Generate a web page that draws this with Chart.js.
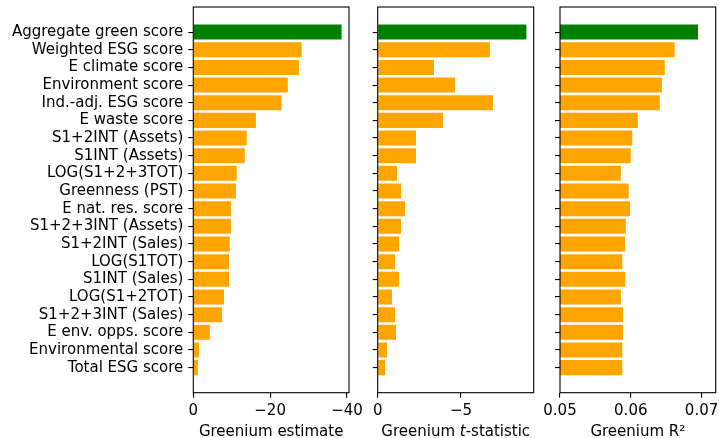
<!DOCTYPE html>
<html>
<head>
<meta charset="utf-8">
<script src="https://cdn.jsdelivr.net/npm/chart.js@4"></script>
<style>
  body { margin: 0; background: #fff; }
  #wrap { position: relative; width: 719px; height: 438px; }
  #wrap canvas { position: absolute; left: 0; top: 0; }
</style>
</head>
<body>
<div id="wrap">
  <canvas id="estimateChart" width="719" height="438"></canvas>
  <canvas id="tstatChart" width="719" height="438"></canvas>
  <canvas id="r2Chart" width="719" height="438"></canvas>
</div>
<script>
const categories = [
  "Aggregate green score", "Weighted ESG score", "E climate score", "Environment score",
  "Ind.-adj. ESG score", "E waste score", "S1+2INT (Assets)", "S1INT (Assets)",
  "LOG(S1+2+3TOT)", "Greenness (PST)", "E nat. res. score", "S1+2+3INT (Assets)",
  "S1+2INT (Sales)", "LOG(S1TOT)", "S1INT (Sales)", "LOG(S1+2TOT)",
  "S1+2+3INT (Sales)", "E env. opps. score", "Environmental score", "Total ESG score"
];
const greeniumEstimate = [-38.6, -28.2, -27.5, -24.6, -23.0, -16.3, -13.9, -13.4, -11.3, -11.1,
  -9.8, -9.8, -9.5, -9.3, -9.3, -8.0, -7.5, -4.3, -1.5, -1.2];
const greeniumTstat = [-8.93, -6.74, -3.38, -4.64, -6.92, -3.92, -2.3, -2.3, -1.16, -1.4,
  -1.64, -1.4, -1.28, -1.04, -1.28, -0.86, -1.04, -1.1, -0.56, -0.44];
const greeniumR2 = [0.0695, 0.0662, 0.0648, 0.0644, 0.0641, 0.0610, 0.0602, 0.0600, 0.0586, 0.0597,
  0.0599, 0.0593, 0.0592, 0.0588, 0.0592, 0.0586, 0.0589, 0.0589, 0.0588, 0.0588];
const estimateTicks = [0, -20, -40];
const tstatTicks = [0, -5];
const r2Ticks = [0.05, 0.06, 0.07];

const FONT = { family: "DejaVu Sans", size: 15 };
const minus = v => String(v).replace("-", "\u2212");

// box around the plot area, drawn over the bars like matplotlib spines
const frame = {
  id: "frame",
  afterDatasetsDraw(chart) {
    const { ctx, chartArea: a } = chart;
    ctx.save();
    ctx.strokeStyle = "#000";
    ctx.lineWidth = 1.1;
    ctx.strokeRect(a.left, a.top, a.right - a.left, a.bottom - a.top);
    ctx.restore();
  }
};

// x axis title, pieces may be italic (for the t in t-statistic)
const axisTitle = {
  id: "axisTitle",
  afterDraw(chart, args, opts) {
    const { ctx, chartArea: a } = chart;
    const parts = opts.parts;
    ctx.save();
    ctx.fillStyle = "#000";
    ctx.textBaseline = "alphabetic";
    let total = 0;
    parts.forEach(p => {
      ctx.font = (p.italic ? "italic " : "") + FONT.size + "px '" + FONT.family + "'";
      p.w = ctx.measureText(p.text).width;
      total += p.w;
    });
    let x = (a.left + a.right) / 2 - total / 2;
    parts.forEach(p => {
      ctx.font = (p.italic ? "italic " : "") + FONT.size + "px '" + FONT.family + "'";
      ctx.fillText(p.text, x, 436);
      x += p.w;
    });
    ctx.restore();
  }
};

function makePanel(id, values, cfg) {
  return new Chart(document.getElementById(id), {
    type: "bar",
    data: {
      datasets: [{
        data: values.map((v, i) => ({ x: v, y: i })),
        backgroundColor: values.map((v, i) => i === 0 ? "green" : "orange"),
        categoryPercentage: 1,
        barPercentage: 0.85
      }]
    },
    options: {
      indexAxis: "y",
      responsive: false,
      animation: false,
      devicePixelRatio: 1,
      layout: { padding: { left: cfg.padLeft, right: cfg.padRight, top: 7, bottom: 0 } },
      plugins: {
        legend: { display: false },
        tooltip: { enabled: false },
        axisTitle: { parts: cfg.title }
      },
      scales: {
        y: {
          type: "linear",
          offset: false,
          reverse: true,
          min: -1.42,
          max: 20.42,
          afterBuildTicks: s => { s.ticks = categories.map((c, i) => ({ value: i })); },
          afterFit: s => { s.width = cfg.yWidth; s.paddingTop = 0; s.paddingBottom = 0; },
          ticks: {
            autoSkip: false,
            padding: 5,
            color: "#000",
            font: FONT,
            callback: v => cfg.showLabels ? categories[v] : ""
          },
          grid: { offset: false, drawOnChartArea: false, tickLength: 5, color: "#000", lineWidth: 1.1 },
          border: { display: false }
        },
        x: {
          type: "linear",
          reverse: cfg.reverse,
          min: cfg.min,
          max: cfg.max,
          afterBuildTicks: s => { s.ticks = cfg.ticks.map(v => ({ value: v })); },
          afterFit: s => { s.height = 45.3; s.paddingLeft = 0; s.paddingRight = 0; },
          ticks: {
            padding: 4,
            color: "#000",
            font: FONT,
            maxRotation: 0,
            callback: cfg.format
          },
          grid: { drawOnChartArea: false, tickLength: 5, color: "#000", lineWidth: 1.1 },
          border: { display: false }
        }
      }
    },
    plugins: [frame, axisTitle]
  });
}

makePanel("estimateChart", greeniumEstimate, {
  padLeft: 0, padRight: 370, yWidth: 193.3, showLabels: true,
  reverse: true, min: -40.53, max: 0, ticks: estimateTicks, format: minus,
  title: [{ text: "Greenium estimate" }]
});

makePanel("tstatChart", greeniumTstat, {
  padLeft: 371.7, padRight: 185.3, yWidth: 6, showLabels: false,
  reverse: true, min: -9.37, max: 0, ticks: tstatTicks, format: minus,
  title: [{ text: "Greenium " }, { text: "t", italic: true }, { text: "-statistic" }]
});

makePanel("r2Chart", greeniumR2, {
  padLeft: 554, padRight: 3.3, yWidth: 6, showLabels: false,
  reverse: false, min: 0.05, max: 0.072, ticks: r2Ticks, format: v => v.toFixed(2),
  title: [{ text: "Greenium R\u00b2" }]
});
</script>
</body>
</html>
